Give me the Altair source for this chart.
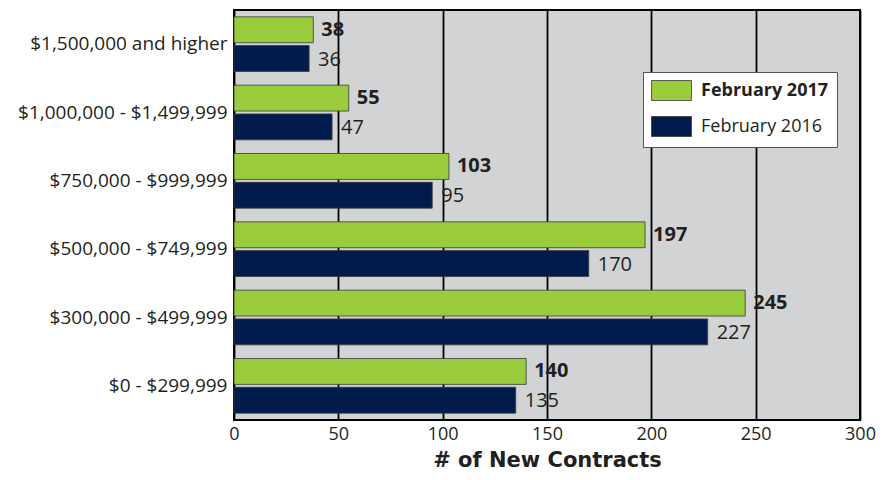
import altair as alt
import pandas as pd

categories = ["$1,500,000 and higher", "$1,000,000 - $1,499,999", "$750,000 - $999,999",
              "$500,000 - $749,999", "$300,000 - $499,999", "$0 - $299,999"]
feb_2017 = [38, 55, 103, 197, 245, 140]
feb_2016 = [36, 47, 95, 170, 227, 135]
series = ["February 2017", "February 2016"]
colors = ["#9acb3c", "#011b4c"]

rows = []
for c, a, b in zip(categories, feb_2017, feb_2016):
    rows.append({"range": c, "year": series[0], "value": a})
    rows.append({"range": c, "year": series[1], "value": b})
df = pd.DataFrame(rows)

FONT = "Open Sans"
TXT = "#231f20"

y_enc = alt.Y("range:N", sort=categories, title=None,
              scale=alt.Scale(paddingInner=0.2, paddingOuter=0.1))
yoff = alt.YOffset("year:N", sort=series, scale=alt.Scale(domain=series, paddingInner=0.1))
x_enc = alt.X("value:Q", title="# of New Contracts",
              scale=alt.Scale(domain=[0, 300], nice=False),
              axis=alt.Axis(values=[0, 50, 100, 150, 200, 250, 300], grid=True))

bars = alt.Chart(df).mark_bar(stroke="#3a3a3a", strokeWidth=0.8).encode(
    x=x_enc, y=y_enc, yOffset=yoff,
    color=alt.Color("year:N", sort=series,
                    scale=alt.Scale(domain=series, range=colors),
                    legend=alt.Legend(
                        title=None, orient="none", legendX=409, legendY=62,
                        symbolType="M-1,-1H3V1H-1Z", symbolSize=400,
                        symbolStrokeColor="#3a3a3a", symbolStrokeWidth=0.8,
                        symbolOpacity=1,
                        labelFont=FONT, labelFontSize=18, labelColor=TXT,
                        labelOffset=29, rowPadding=11, labelLimit=0,
                        fillColor="white", strokeColor="#555555", padding=8,
                        labelFontWeight=alt.ExprRef(
                            "datum.label == 'February 2017' ? 'bold' : 'normal'"),
                    )),
)

lab17 = alt.Chart(df).transform_filter(alt.datum.year == series[0]).mark_text(
    align="left", baseline="middle", dx=8, dy=0, font=FONT, fontSize=20,
    fontWeight="bold", color=TXT).encode(
    x=x_enc, y=y_enc, yOffset=yoff, text="value:Q")

lab16 = alt.Chart(df).transform_filter(alt.datum.year == series[1]).mark_text(
    align="left", baseline="middle", dx=9, dy=1, font=FONT, fontSize=20,
    fontWeight="normal", color=TXT).encode(
    x=x_enc, y=y_enc, yOffset=yoff, text="value:Q")

chart = alt.layer(bars, lab17, lab16).properties(
    width=626, height=410,
    autosize=alt.AutoSizeParams(type="none"),
    padding={"left": 226, "top": 2, "right": 19, "bottom": 52},
).configure_view(
    fill="#d1d3d4", stroke="black", strokeWidth=2
).configure_axis(
    domain=False, ticks=False, gridColor="black", gridWidth=1.8, gridOpacity=1,
    labelFont=FONT, labelColor=TXT, titleFont=FONT, titleColor=TXT,
).configure_axisX(
    labelFontSize=18, labelPadding=5, titleFontSize=21, titleFontWeight="bold",
    titleFont="DejaVu Sans", titlePadding=6, labelFlush=False,
).configure_axisY(
    labelFontSize=19, labelPadding=7, grid=False, labelLimit=0,
)

chart.save("out.html", embed_options={"renderer": "svg", "actions": False})
